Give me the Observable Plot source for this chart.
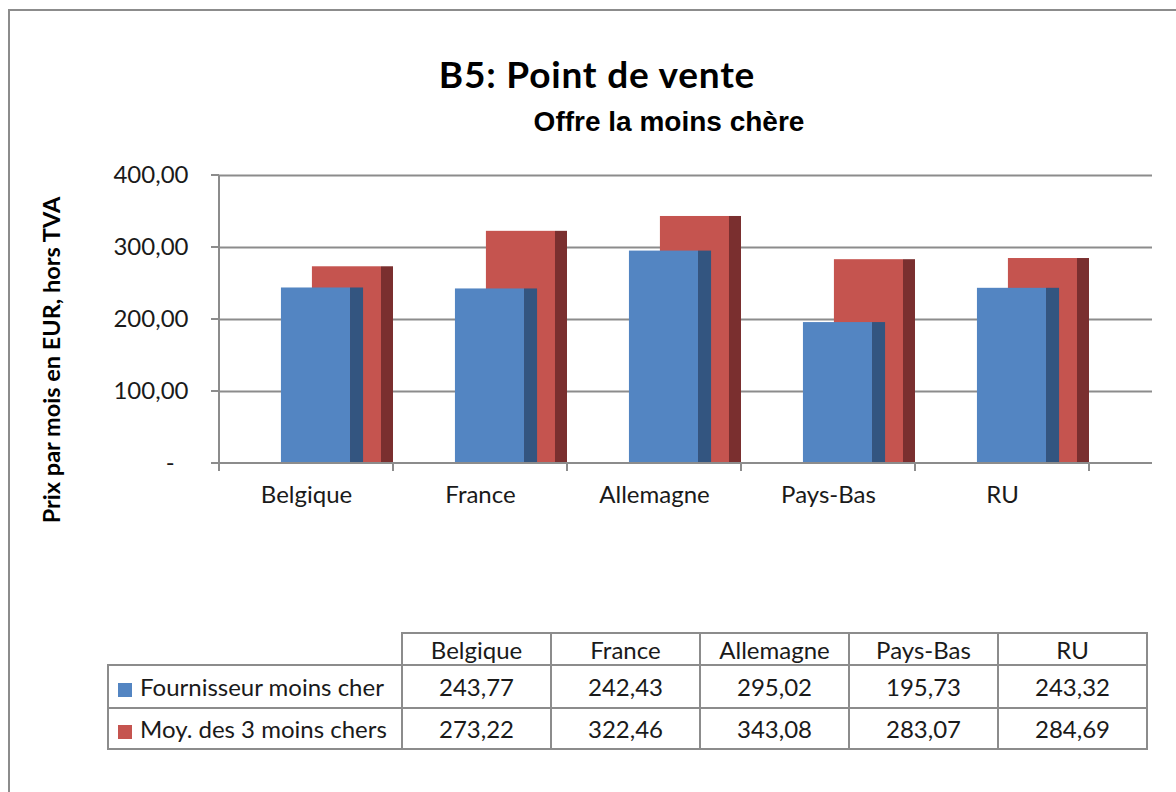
<!DOCTYPE html>
<html>
<head>
<meta charset="utf-8">
<script src="https://cdn.jsdelivr.net/npm/d3@7"></script>
<script src="https://cdn.jsdelivr.net/npm/@observablehq/plot@0.6"></script>
<style>
  body { margin: 0; background: #fff; }
  #page { position: relative; width: 1176px; height: 792px; overflow: hidden; background: #fff; }
  #frame { position: absolute; left: 8px; top: 9px; width: 1300px; height: 900px;
           border-left: 2px solid #8c8c8c; border-top: 2px solid #8c8c8c; }
  .t { position: absolute; white-space: nowrap; line-height: 1; color: #000; }
  #title { font-family: Lato, sans-serif; font-weight: 700; font-size: 37px; letter-spacing: 0.8px; left: 0; width: 1194px; text-align: center; top: 55px; }
  #subtitle { font-family: "Liberation Sans", Arial, sans-serif; font-weight: 700; font-size: 28px; left: 0; width: 1338px; text-align: center; top: 108px; }
  #ytitle { font-family: Lato, sans-serif; font-weight: 700; font-size: 23.5px; left: 52px; top: 360px;
            transform: translate(-50%, -50%) rotate(-90deg); transform-origin: center; }
  #chart { position: absolute; left: 0; top: 150px; }
  #tbl { position: absolute; left: 107px; top: 632px; border-collapse: collapse;
         font-family: Lato, sans-serif; font-size: 24px; color: #1a1a1a; }
  #tbl td { border: 2px solid #8c8c8c; text-align: center; padding: 0; }
  #tbl td.blank { border: none; border-bottom: 2px solid #8c8c8c; }
  #tbl td.leg { text-align: left; padding-left: 9px; }
  .sw { display: inline-block; width: 14px; height: 14px; margin-right: 8px; vertical-align: -1px; }
</style>
</head>
<body>
<div id="page">
  <div id="frame"></div>
  <div id="title" class="t"></div>
  <div id="subtitle" class="t"></div>
  <div id="ytitle" class="t"></div>
  <div id="chart"></div>
  <table id="tbl"></table>
</div>
<script>
// ---- data ----
const titleText = "B5: Point de vente";
const subtitleText = "Offre la moins chère";
const yTitle = "Prix par mois en EUR, hors TVA";
const categories = ["Belgique", "France", "Allemagne", "Pays-Bas", "RU"];
const fournisseur = [243.77, 242.43, 295.02, 195.73, 243.32];
const moyenne = [273.22, 322.46, 343.08, 283.07, 284.69];
const seriesNames = ["Fournisseur moins cher", "Moy. des 3 moins chers"];
const yTicks = [0, 100, 200, 300, 400];

// ---- styling ----
const colors = {
  blueFront: "#5385c2", blueSide: "#335580",
  redFront: "#c5544f", redSide: "#7a2f2f"
};
const axisGray = "#8c8c8c";

document.getElementById("title").textContent = titleText;
document.getElementById("subtitle").textContent = subtitleText;
document.getElementById("ytitle").textContent = yTitle;

const fmt = v => v.toFixed(2).replace(".", ",");
const tickFmt = v => v === 0 ? "-\u2007" : fmt(v);

const rowsBlue = categories.map((c, i) => ({country: c, value: fournisseur[i]}));
const rowsRed = categories.map((c, i) => ({country: c, value: moyenne[i]}));

const xRange = [219, 1089];
const bw = (xRange[1] - xRange[0]) / categories.length;
// fractions of band width for the pseudo-3D columns
const geom = {
  blueFront: [0.356, 0.753], blueSide: [0.753, 0.828],
  redFront: [0.534, 0.931], redSide: [0.931, 1.0]
};
const ins = k => ({insetLeft: geom[k][0] * bw, insetRight: (1 - geom[k][1]) * bw});

function axesMark(index, scales, values, dims) {
  const {x, y} = scales;
  const g = d3.create("svg:g").attr("stroke", axisGray).attr("stroke-width", 2).attr("fill", "none");
  const x0 = x(categories[0]);
  const step = x(categories[1]) - x(categories[0]);
  g.append("line").attr("x1", x0).attr("x2", x0).attr("y1", y(yTicks[yTicks.length - 1])).attr("y2", y(0) + 8);
  for (const t of yTicks) {
    g.append("line").attr("x1", x0 - 8).attr("x2", x0).attr("y1", y(t)).attr("y2", y(t));
  }
  g.append("line").attr("x1", x0).attr("x2", dims.width - dims.marginRight).attr("y1", y(0)).attr("y2", y(0));
  for (let i = 0; i <= categories.length; i++) {
    const xx = x0 + i * step;
    g.append("line").attr("x1", xx).attr("x2", xx).attr("y1", y(0)).attr("y2", y(0) + 8);
  }
  return g.node();
}

const chart = Plot.plot({
  width: 1176,
  height: 380,
  marginLeft: 219,
  marginRight: 24,
  marginTop: 25,
  marginBottom: 67,
  style: {fontFamily: "Lato, sans-serif", fontSize: "24px", color: "#1a1a1a", background: "transparent"},
  x: {type: "band", domain: categories, range: xRange, padding: 0, label: null, tickSize: 0, tickPadding: 22},
  y: {domain: [0, 400], ticks: yTicks, tickFormat: tickFmt, tickSize: 0, tickPadding: 31, label: null},
  marks: [
    Plot.ruleY(yTicks.filter(t => t > 0), {stroke: axisGray, strokeWidth: 2}),
    Plot.barY(rowsRed, {x: "country", y: "value", fill: colors.redFront, ...ins("redFront")}),
    Plot.barY(rowsRed, {x: "country", y: "value", fill: colors.redSide, ...ins("redSide")}),
    Plot.barY(rowsBlue, {x: "country", y: "value", fill: colors.blueFront, ...ins("blueFront")}),
    Plot.barY(rowsBlue, {x: "country", y: "value", fill: colors.blueSide, ...ins("blueSide")}),
    axesMark
  ]
});
document.getElementById("chart").appendChild(chart);

// ---- data table ----
const tbl = document.getElementById("tbl");
const colW = [294, 149, 149, 149, 149, 149];
let html = "<colgroup>" + colW.map(w => `<col style="width:${w}px">`).join("") + "</colgroup>";
html += `<tr style="height:32px"><td class="blank"></td>` + categories.map(c => `<td>${c}</td>`).join("") + "</tr>";
const series = [fournisseur, moyenne];
const swatches = [colors.blueFront, colors.redFront];
const rowH = [43, 41];
series.forEach((s, k) => {
  html += `<tr style="height:${rowH[k]}px"><td class="leg"><span class="sw" style="background:${swatches[k]}"></span>${seriesNames[k]}</td>` +
    s.map(v => `<td>${fmt(v)}</td>`).join("") + "</tr>";
});
tbl.innerHTML = html;
tbl.style.width = colW.reduce((a, b) => a + b, 0) + "px";
tbl.style.tableLayout = "fixed";
</script>
</body>
</html>
